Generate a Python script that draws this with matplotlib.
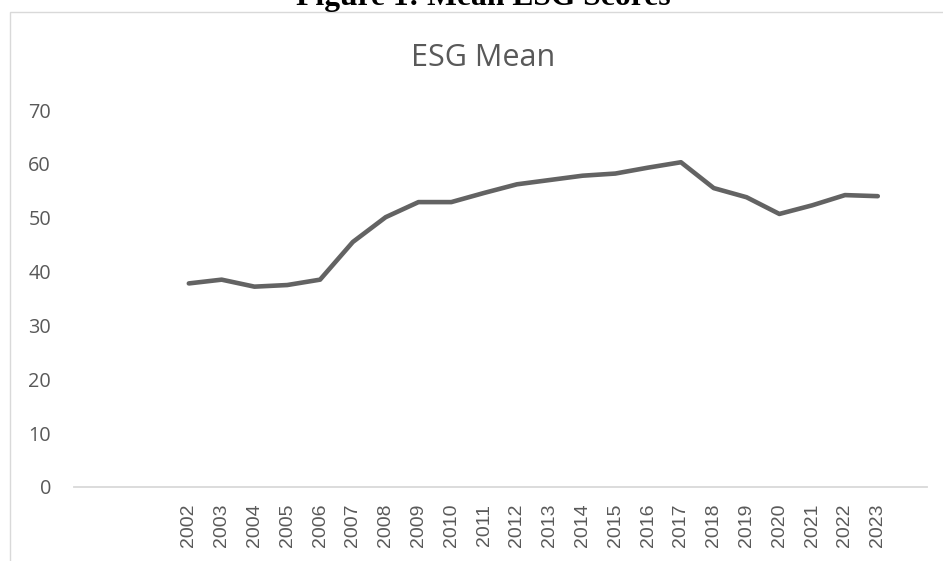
"""
Mean ESG score line chart (Excel-style single series).
"""

import matplotlib
matplotlib.use('Agg')
import matplotlib.pyplot as plt
import numpy as np
from matplotlib.patches import Rectangle

# Data
years = ['2002', '2003', '2004', '2005', '2006', '2007', '2008', '2009',
         '2010', '2011', '2012', '2013', '2014', '2015', '2016', '2017',
         '2018', '2019', '2020', '2021', '2022', '2023']
esg_mean = [37.8, 38.5, 37.2, 37.5, 38.5, 45.5, 50.1, 52.9,
            52.9, 54.6, 56.2, 57.0, 57.8, 58.2, 59.3, 60.3,
            55.5, 53.8, 50.7, 52.3, 54.2, 54.0]

# the category axis has three empty slots in front and one after
lead_blanks = ['', '', '']
tail_blanks = ['']
categories = lead_blanks + years + tail_blanks
values = [np.nan] * len(lead_blanks) + esg_mean + [np.nan] * len(tail_blanks)

y_ticks = [0, 10, 20, 30, 40, 50, 60, 70]

GREY = '#595959'
LINE = '#636363'


def main():
    W, H = 943, 561
    fig = plt.figure(figsize=(W / 100, H / 100), dpi=100)

    # chart area border
    fig.patches.append(Rectangle((10 / W, -0.1), 1.2, 1.1 - 12 / H,
                                 transform=fig.transFigure, fill=False,
                                 edgecolor='#d9d9d9', linewidth=1.0))

    # document caption, clipped by the top of the image
    fig.text(483 / W, 1 - 5 / H, 'Figure 1: Mean ESG Scores',
             ha='center', va='baseline', fontsize=22.8, fontweight='bold',
             family='Liberation Serif', color='black')

    ax = fig.add_axes([74 / W, (H - 487) / H, 853 / W, 377 / H])
    x = np.arange(len(categories))
    ax.plot(x, values, color=LINE, linewidth=3.3,
            solid_capstyle='round', solid_joinstyle='round')

    ax.set_xlim(-0.5, len(categories) - 0.5)
    ax.set_ylim(0, 70)
    ax.set_yticks(y_ticks)
    ax.set_yticklabels([str(v) for v in y_ticks], family='Open Sans',
                       fontsize=14.3, color=GREY)
    ax.set_xticks(x)
    ax.set_xticklabels(categories, rotation=90, family='Liberation Sans',
                       fontsize=14, color=GREY)
    ax.tick_params(axis='x', length=0, pad=12)
    ax.tick_params(axis='y', length=0, pad=16.5)

    for side in ['top', 'right', 'left']:
        ax.spines[side].set_visible(False)
    ax.spines['bottom'].set_color('#d9d9d9')
    ax.spines['bottom'].set_linewidth(1.3)

    fig.text(483 / W, 1 - 66 / H, 'ESG Mean', ha='center', va='baseline',
             fontsize=22, family='Open Sans', color=GREY)

    fig.savefig('out.png', dpi=100)


if __name__ == "__main__":
    main()
